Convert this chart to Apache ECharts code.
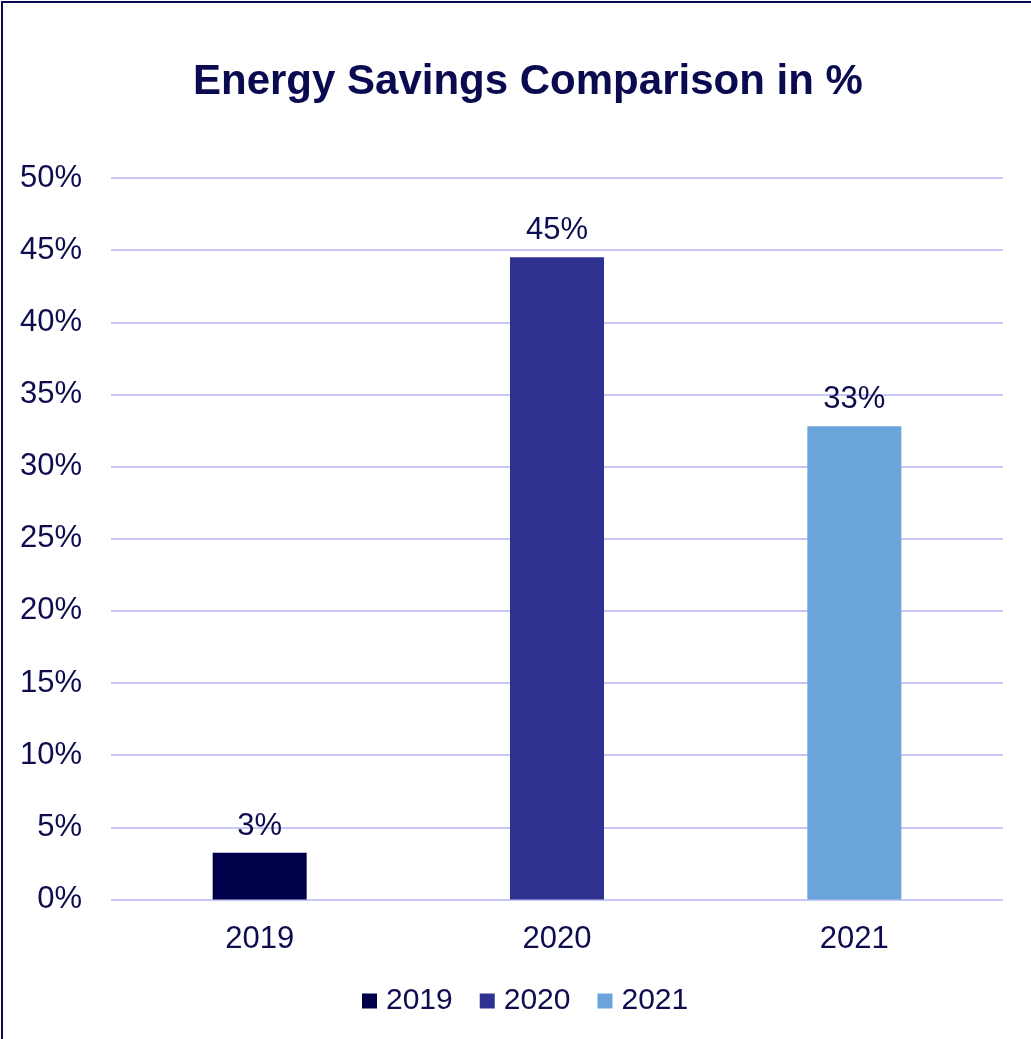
<!DOCTYPE html>
<html>
<head>
<meta charset="utf-8">
<script src="https://cdn.jsdelivr.net/npm/echarts@6/dist/echarts.min.js"></script>
<style>html,body{margin:0;padding:0;background:#fff;}#c{width:1031px;height:1039px;}</style>
</head>
<body>
<div id="c"></div>
<script>
const categories = ['2019', '2020', '2021'];
const seriesNames = ['2019', '2020', '2021'];
const values = [3.24, 44.5, 32.8];
const yTicks = [0, 5, 10, 15, 20, 25, 30, 35, 40, 45, 50];
const colors = ['#00004b', '#2e3190', '#6ba4da'];

const FONT = '"Liberation Sans", Arial, sans-serif';
const TXT = '#0c0c4e';

const chart = echarts.init(document.getElementById('c'), null, {renderer: 'canvas'});
const series = seriesNames.map((name, i) => ({
  name: name,
  type: 'bar',
  stack: 'all',
  barWidth: 94,
  data: categories.map((c, j) => (j === i ? values[i] : null)),
  itemStyle: {color: colors[i]},
  label: {
    show: true,
    position: 'top',
    distance: 11,
    color: TXT,
    fontSize: 31,
    fontFamily: FONT,
    formatter: p => Math.round(p.value) + '%'
  }
}));

chart.setOption({
  backgroundColor: '#fff',
  animation: false,
  title: {
    text: 'Energy Savings Comparison in %',
    left: 188,
    top: 56,
    textStyle: {fontSize: 42, fontWeight: 'bold', color: '#0a0a50', fontFamily: FONT}
  },
  graphic: [{
    type: 'rect',
    shape: {x: 2, y: 2, width: 1100, height: 1100},
    style: {fill: 'none', stroke: '#0a0a50', lineWidth: 2},
    silent: true
  }],
  legend: {
    data: seriesNames,
    left: 357,
    top: 981,
    icon: 'rect',
    itemWidth: 15,
    itemHeight: 15,
    itemGap: 27,
    textStyle: {fontSize: 30, color: TXT, fontFamily: FONT, padding: [0, 0, 0, 4]}
  },
  grid: {left: 111, right: 28, top: 178, bottom: 139.5, containLabel: false},
  xAxis: {
    type: 'category',
    data: categories,
    axisLine: {show: false},
    axisTick: {show: false},
    axisLabel: {fontSize: 31, color: TXT, fontFamily: FONT, margin: 24}
  },
  yAxis: {
    type: 'value',
    min: yTicks[0],
    max: yTicks[yTicks.length - 1],
    interval: 5,
    axisLine: {show: false},
    axisTick: {show: false},
    splitLine: {lineStyle: {color: '#c8c8f8', width: 2}},
    axisLabel: {fontSize: 31, color: TXT, fontFamily: FONT, margin: 29, padding: [4, 0, 0, 0], formatter: '{value}%'}
  },
  series: series
});
</script>
</body>
</html>
